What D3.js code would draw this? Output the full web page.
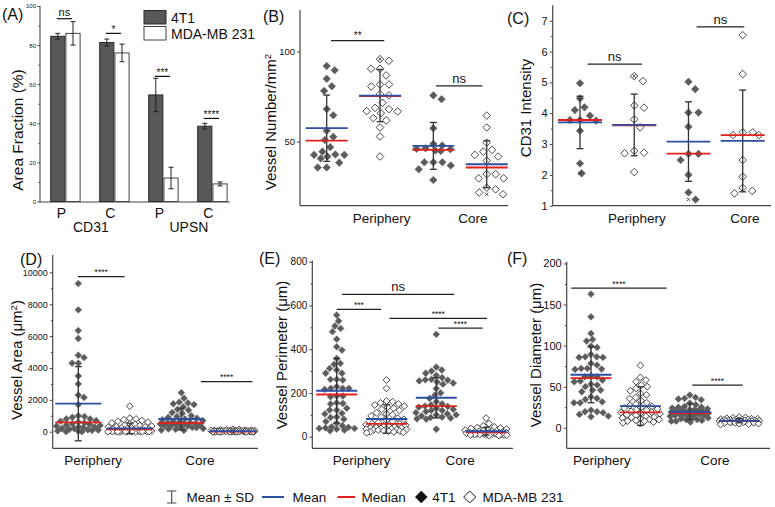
<!DOCTYPE html>
<html><head><meta charset="utf-8">
<script src="https://cdn.jsdelivr.net/npm/d3@7"></script>
<style>
body{margin:0;background:#fff}
svg{display:block}
text{font-family:"Liberation Sans",Arial,sans-serif;fill:#111}
</style>
</head><body>
<svg id="chart" width="775" height="507"></svg>
<script>
// ---------------- DATA ----------------
// Panel A: area fraction bar chart
const barTicks = ["P", "C", "P", "C"];
const barGroups = ["CD31", "UPSN"];
const barSeries = ["4T1", "MDA-MB 231"];
const area4T1 = [84.5, 81.3, 54.5, 38.5];
const area4T1SD = [1.5, 1.8, 8.5, 1.5];
const areaMDA = [86.0, 76.0, 12.0, 9.0];
const areaMDASD = [6.0, 4.5, 5.5, 1.0];
const areaSigLabels = ["ns", "*", "***", "****"];
const areaSigLevels = [93.5, 86, 64, 42.5];

// Scatter panels: groups = 4T1 Periphery, MDA Periphery, 4T1 Core, MDA Core
const regionLabels = ["Periphery", "Core"];

// (B) Vessel number / mm2
const numberPoints = [
  [91.9, 89.6, 84.8, 80.7, 78.1, 68.0, 64.6, 56.0, 52.6, 50.9, 46.9, 44.4, 42.8, 42.6, 42.6, 41.7, 40.6, 38.3, 35.6, 35.6],
  [95.7, 94.8, 90.4, 90.4, 86.7, 81.7, 81.7, 80.6, 76.3, 75.6, 71.5, 68.7, 68.0, 66.9, 66.7, 65.7, 63.0, 61.7, 57.8, 52.8, 41.7],
  [75.6, 73.5, 57.4, 48.7, 47.8, 46.3, 46.0, 45.7, 45.0, 44.8, 38.5, 38.5, 38.5, 36.7, 34.6, 28.7],
  [64.4, 57.8, 49.4, 45.4, 44.4, 42.6, 41.7, 39.4, 31.9, 31.9, 29.6, 29.6, 24.4, 23.5, 21.7, 20.7]
];
const numberMean = [57.4, 75.5, 47.6, 37.4];
const numberMedian = [50.5, 75.2, 45.4, 35.6];
const numberSD = [18.4, 14.5, 13.0, 13.0];
const numberExtremes = [[1, 95.7], [3, 20.7]];
const numberSig = [{from: 0.08, to: 1.08, level: 106, label: "**"}, {from: 2.05, to: 2.92, level: 80.9, label: "ns"}];
const numberTicks = [50, 100];

// (C) CD31 intensity
const intensityPoints = [
  [4.97, 4.48, 4.19, 4.10, 3.92, 3.78, 3.78, 3.76, 3.43, 2.37, 2.05],
  [5.20, 5.04, 4.25, 4.18, 3.80, 3.54, 2.78, 2.72, 2.70, 2.09],
  [5.02, 4.78, 4.02, 4.02, 3.56, 2.68, 2.68, 2.48, 2.00, 1.43, 1.20],
  [6.53, 5.27, 3.38, 3.38, 3.29, 3.29, 2.48, 1.94, 1.58, 1.48, 1.40]
];
const intensityMean = [3.70, 3.62, 3.08, 3.10];
const intensityMedian = [3.78, 3.61, 2.69, 3.29];
const intensitySD = [0.85, 1.00, 1.29, 1.65];
const intensityExtremes = [[0, 2.05], [1, 5.2], [2, 1.2]];
const intensitySig = [{from: 0.14, to: 1.14, level: 5.59, label: "ns"}, {from: 2.15, to: 3.03, level: 6.8, label: "ns"}];
const intensityTicks = [1, 2, 3, 4, 5, 6, 7];

// (D) Vessel area
const areaPoints = [
  [9300, 7650, 6350, 5850, 4800, 4650, 4300, 4300, 3500, 3000, 2300, 2150, 1700, 1000, 950, 900, 800, 800, 700, 650, 600, 550, 500, 450, 400, 400, 350, 300, 300, 250, 200, 200, 150, 120, 100, 80, 50, 30, 0, 0],
  [1600, 850, 800, 750, 700, 650, 600, 550, 500, 450, 400, 380, 350, 320, 300, 280, 250, 230, 200, 180, 160, 150, 130, 120, 100, 90, 80, 70, 60, 50, 40, 30, 20, 15, 10, 5, 0, 0, 0, 0, 0, 0, 0, 0, 0],
  [2450, 2100, 1850, 1800, 1750, 1700, 1550, 1400, 1350, 1200, 1150, 1000, 950, 900, 850, 800, 750, 700, 650, 600, 580, 560, 520, 500, 480, 450, 420, 400, 380, 350, 300, 270, 250, 200, 170, 150, 100, 80],
  [150, 130, 120, 110, 100, 90, 85, 80, 75, 70, 65, 60, 55, 50, 48, 45, 42, 40, 38, 35, 32, 30, 28, 25, 22, 20, 18, 15, 12, 10, 10, 8, 8, 6, 5, 5, 4, 3, 2, 2, 1, 1, 0, 0, 0, 0, 0, 0]
];
const areaMean = [1757, 209, 795, 30];
const areaMedian = [586, 146, 540, 10];
const areaSD = [2330, 330, 680, 40];
const areaSig = [{from: -0.01, to: 0.9, level: 9730, label: "****"}, {from: 2.38, to: 3.38, level: 3140, label: "****"}];
const areaTicks = [0, 2000, 4000, 6000, 8000, 10000];

// (E) Vessel perimeter
const perimeterPoints = [
  [556, 529, 506, 495, 480, 446, 411, 396, 358, 335, 331, 312, 305, 290, 290, 262, 262, 259, 229, 221, 221, 221, 216, 186, 186, 183, 155, 152, 150, 130, 122, 122, 107, 104, 90, 88, 80, 69, 61, 50, 45, 43, 40, 38, 38, 35, 30, 27],
  [259, 221, 163, 160, 155, 150, 145, 140, 135, 130, 125, 120, 110, 105, 100, 95, 90, 85, 80, 75, 70, 65, 60, 58, 55, 52, 50, 48, 45, 42, 40, 40, 38, 36, 35, 35, 33, 32, 30, 30, 28, 26, 25, 22, 22, 20, 18],
  [468, 318, 305, 300, 290, 280, 270, 262, 260, 258, 255, 250, 245, 240, 220, 200, 190, 175, 160, 150, 145, 140, 138, 135, 130, 125, 120, 120, 115, 110, 105, 100, 100, 95, 90, 88, 85, 82, 80, 34],
  [85, 60, 50, 45, 42, 40, 38, 35, 32, 30, 28, 26, 25, 24, 22, 21, 20, 20, 19, 18, 18, 17, 16, 15, 15, 14, 13, 12, 12, 11, 10, 10, 9, 8, 8, 7, 6, 5]
];
const perimeterMean = [210, 81, 178, 25];
const perimeterMedian = [193, 59, 140, 20];
const perimeterSD = [147, 65, 92, 18];
const perimeterSig = [
  {from: 0.11, to: 2.36, level: 651, label: "ns"},
  {from: 0.0, to: 0.89, level: 582, label: "***"},
  {from: 1.06, to: 3.02, level: 541, label: "****"},
  {from: 2.04, to: 2.93, level: 496, label: "****"}
];
const perimeterTicks = [0, 200, 400, 600, 800];

// (F) Vessel diameter
const diameterPoints = [
  [162.7, 135, 114.8, 107.5, 105.5, 99.4, 97.8, 89.2, 86.4, 86.4, 85.6, 85.6, 78.3, 76.3, 72.2, 72.2, 71.4, 71, 62.9, 62, 62, 58, 56.8, 56, 53.1, 52, 50, 45.8, 45.8, 43.8, 37.7, 35.7, 34.5, 31.6, 30.4, 30.4, 21.5, 19.5, 19.5, 18.3, 16.2, 14.2, 13.4],
  [75.9, 61.3, 58, 56, 52, 50, 47.9, 45, 41.8, 40, 36.9, 35.7, 33, 30.4, 28.8, 27, 26, 25, 24, 23, 22, 21.5, 20, 19, 18.5, 18, 17, 16, 15, 14, 13, 12.5, 12, 11, 10, 10, 9, 8, 8, 7, 6, 5],
  [39.8, 36.9, 35.7, 35, 34, 30, 28, 26, 25, 25, 24, 23, 22, 22, 21, 21, 20, 20, 19, 19, 18, 18, 17, 17, 16, 16, 15, 15, 14, 14, 13, 12, 11, 10, 10, 9, 8, 8, 7],
  [13, 12.5, 12, 11.5, 11, 11, 10.5, 10, 10, 10, 9.5, 9.5, 9, 9, 9, 8.5, 8.5, 8.5, 8, 8, 8, 8, 7.5, 7.5, 7.5, 7, 7, 7, 6.5, 6.5, 6, 6, 5.5, 5, 5, 4.5, 4]
];
const diameterMean = [64.5, 26.4, 19.5, 8.5];
const diameterMedian = [60.4, 18.7, 17.8, 8.0];
const diameterSD = [34, 23.5, 9.5, 2.5];
const diameterSig = [{from: -0.4, to: 1.53, level: 170, label: "****"}, {from: 2.05, to: 3.07, level: 52, label: "****"}];
const diameterTicks = [0, 50, 100, 150, 200];

const legendItems = ["Mean \u00b1 SD", "Mean", "Median", "4T1", "MDA-MB 231"];

// ---------------- STYLE ----------------
const DARK = "#5c5c5c", BLUE = "#2c4ea3", RED = "#e3211c", AXIS = "#444";
const svg = d3.select("#chart");
svg.append("rect").attr("width", 775).attr("height", 507).attr("fill", "#fff");

function diamondPath(r) { return `M0,${-r}L${r},0L0,${r}L${-r},0Z`; }

function swarm(values, y, d, half) {
  const pts = values.map((v, i) => ({v, y: y(v), i})).sort((a, b) => a.y - b.y);
  const placed = [];
  let k = 0;
  for (const p of pts) {
    let dd = d, x = null;
    while (x === null) {
      const cands = [0];
      for (const q of placed) {
        const dy = Math.abs(q.y - p.y);
        if (dy < dd) { const dx = Math.sqrt(dd * dd - dy * dy); cands.push(q.x + dx, q.x - dx); }
      }
      cands.sort((a, b) => Math.abs(a) - Math.abs(b));
      for (const c of cands) {
        if (Math.abs(c) > half + 1e-6) continue;
        if (placed.every(q => (q.x - c) ** 2 + (q.y - p.y) ** 2 >= dd * dd - 1e-6)) { x = c; break; }
      }
      dd *= 0.88;
      if (x === null && dd < 1.2) x = (((k * 0.618034) % 1) - 0.5) * 2 * half;
    }
    k++;
    p.x = x; placed.push(p);
  }
  return pts;
}

// ---------------- PANEL A ----------------
(function () {
  const g = svg.append("g");
  const y = d3.scaleLinear().domain([0, 100]).range([201.5, 6]);
  const x = d3.scaleBand().domain(d3.range(4)).range([40.9, 236.9]).paddingInner(0.4).paddingOuter(0.2);
  const xs = d3.scaleBand().domain([0, 1]).range([0, x.bandwidth()]).paddingInner(0.07);
  const series = [{v: area4T1, sd: area4T1SD, fill: "#585858", stroke: "#2a2a2a"}, {v: areaMDA, sd: areaMDASD, fill: "#fff", stroke: "#444"}];

  const ax = g.append("g").attr("transform", "translate(40,0)")
    .call(d3.axisLeft(y).tickValues([0, 20, 40, 60, 80, 100]).tickSize(2.5).tickPadding(1.5).tickFormat(d3.format("d")));
  ax.select(".domain").remove();
  ax.selectAll("line").attr("stroke", AXIS);
  ax.selectAll("text").attr("font-family", null).style("font-size", "6px");
  g.append("g").attr("transform", "translate(40,0)")
    .call(d3.axisLeft(y).tickValues([10, 30, 50, 70, 90]).tickSize(1.5).tickFormat(""))
    .call(s => s.select(".domain").remove()).selectAll("line").attr("stroke", AXIS);
  g.append("line").attr("x1", 40).attr("x2", 40).attr("y1", y(100)).attr("y2", 202).attr("stroke", AXIS).attr("stroke-width", 1.1);
  g.append("line").attr("x1", 40).attr("x2", 230).attr("y1", 202).attr("y2", 202).attr("stroke", AXIS).attr("stroke-width", 1.1);

  series.forEach((s, si) => {
    s.v.forEach((v, i) => {
      const bx = x(i) + xs(si);
      g.append("rect").attr("x", bx).attr("y", y(v)).attr("width", xs.bandwidth()).attr("height", y(0) - y(v))
        .attr("fill", s.fill).attr("stroke", s.stroke).attr("stroke-width", 1);
      const cx = bx + xs.bandwidth() / 2;
      const y1 = y(v + s.sd[i]), y2 = y(v - s.sd[i]);
      g.append("line").attr("x1", cx).attr("x2", cx).attr("y1", y1).attr("y2", y2).attr("stroke", "#222").attr("stroke-width", 1);
      [y1, y2].forEach(yy => g.append("line").attr("x1", cx - 2.5).attr("x2", cx + 2.5).attr("y1", yy).attr("y2", yy).attr("stroke", "#222").attr("stroke-width", 1));
    });
  });
  // significance
  areaSigLabels.forEach((lab, i) => {
    const x1 = x(i) + xs(0) + xs.bandwidth() / 2 - 1, x2 = x(i) + xs(1) + xs.bandwidth() / 2 - 1;
    const yy = y(areaSigLevels[i]);
    g.append("line").attr("x1", x1).attr("x2", x2).attr("y1", yy).attr("y2", yy).attr("stroke", "#111").attr("stroke-width", 1.2);
    g.append("text").attr("x", (x1 + x2) / 2).attr("y", yy - (lab === "ns" ? 2.5 : 0.5)).attr("text-anchor", "middle")
      .style("font-size", lab === "ns" ? "11px" : "10px").text(lab);
  });
  // x labels
  barTicks.forEach((t, i) => {
    g.append("text").attr("x", x(i) + x.bandwidth() / 2 - 4).attr("y", 217.5).attr("text-anchor", "middle").style("font-size", "14px").text(t);
  });
  barGroups.forEach((t, gi) => {
    const cx = (x(gi * 2) + x(gi * 2 + 1) + x.bandwidth()) / 2 + 1;
    g.append("text").attr("x", cx).attr("y", 232).attr("text-anchor", "middle").style("font-size", "14px").text(t);
  });
  // legend
  series.forEach((s, si) => {
    g.append("rect").attr("x", 144).attr("y", 10.5 + si * 16).attr("width", 22).attr("height", 13.5)
      .attr("fill", s.fill).attr("stroke", s.stroke).attr("stroke-width", 1);
    g.append("text").attr("x", 171).attr("y", 22.5 + si * 16.5).style("font-size", "14px").text(barSeries[si]);
  });
  g.append("text").attr("transform", "translate(23,130) rotate(-90)").attr("text-anchor", "middle").style("font-size", "15.5px").text("Area Fraction (%)");
  g.append("text").attr("x", 2).attr("y", 20).style("font-size", "16px").text("(A)");
})();

// ---------------- SCATTER PANELS ----------------
function scatterPanel(c) {
  const g = svg.append("g");
  const y = d3.scaleLinear().domain(c.domain).range([c.yBottom, c.yTop]);
  const x = d3.scaleLinear().domain([0, 3]).range(c.xRange);

  const ax = g.append("g").attr("transform", `translate(${c.axisX},0)`)
    .call(d3.axisLeft(y).tickValues(c.ticks).tickSize(3).tickPadding(2).tickFormat(d3.format("d")));
  ax.select(".domain").remove();
  ax.selectAll("line").attr("stroke", AXIS);
  ax.selectAll("text").attr("font-family", null).style("font-size", c.tickFont + "px");
  if (c.minor) {
    g.append("g").attr("transform", `translate(${c.axisX},0)`)
      .call(d3.axisLeft(y).tickValues(c.minor).tickSize(1.8).tickFormat(""))
      .call(s => s.select(".domain").remove()).selectAll("line").attr("stroke", AXIS);
  }
  g.append("line").attr("x1", c.axisX).attr("x2", c.axisX).attr("y1", c.yTop).attr("y2", c.yBottom).attr("stroke", AXIS).attr("stroke-width", 1.2);
  g.append("line").attr("x1", c.axisX).attr("x2", c.axisEnd).attr("y1", c.yBottom).attr("y2", c.yBottom).attr("stroke", AXIS).attr("stroke-width", 1.2);

  // points
  c.points.forEach((vals, gi) => {
    const sw = swarm(vals, y, c.d, c.spread);
    const filled = gi % 2 === 0;
    g.append("g").selectAll("path").data(sw).join("path")
      .attr("d", diamondPath(c.r))
      .attr("transform", p => `translate(${x(gi) + p.x},${y(p.v)})`)
      .attr("fill", filled ? DARK : "#fff")
      .attr("stroke", filled ? DARK : "#333")
      .attr("stroke-width", filled ? 0.5 : 0.9);
  });
  (c.extremes || []).forEach(([gi, v]) => {
    const cx = x(gi), cy = y(v), s = 1.6;
    g.append("path").attr("d", `M${cx - s},${cy - s}L${cx + s},${cy + s}M${cx - s},${cy + s}L${cx + s},${cy - s}`).attr("stroke", "#333").attr("stroke-width", 0.9);
  });
  // stats
  c.mean.forEach((m, gi) => {
    const cx = x(gi), sd = c.sd[gi];
    const y1 = y(m + sd), y2 = y(m - sd);
    g.append("line").attr("x1", cx).attr("x2", cx).attr("y1", y1).attr("y2", y2).attr("stroke", "#333").attr("stroke-width", 1.3);
    [y1, y2].forEach(yy => g.append("line").attr("x1", cx - 3.5).attr("x2", cx + 3.5).attr("y1", yy).attr("y2", yy).attr("stroke", "#333").attr("stroke-width", 1.3));
    g.append("line").attr("x1", cx - c.half).attr("x2", cx + c.half).attr("y1", y(c.median[gi])).attr("y2", y(c.median[gi])).attr("stroke", RED).attr("stroke-width", 1.8);
    g.append("line").attr("x1", cx - c.half).attr("x2", cx + c.half).attr("y1", y(m)).attr("y2", y(m)).attr("stroke", BLUE).attr("stroke-width", 1.8);
  });
  // significance
  c.sig.forEach(s => {
    const x1 = x(s.from), x2 = x(s.to), yy = y(s.level);
    g.append("line").attr("x1", x1).attr("x2", x2).attr("y1", yy).attr("y2", yy).attr("stroke", "#222").attr("stroke-width", 1.3);
    const ns = s.label === "ns";
    g.append("text").attr("x", (x1 + x2) / 2).attr("y", yy - (ns ? 3 : 1.5)).attr("text-anchor", "middle")
      .style("font-size", ns ? "13px" : c.starFont + "px").text(s.label);
  });
  // category labels
  regionLabels.forEach((t, i) => {
    g.append("text").attr("x", x(c.labelPos[i])).attr("y", c.labelY).attr("text-anchor", "middle").style("font-size", "13.5px").text(t);
  });
  // y title
  const tt = g.append("text").attr("transform", `translate(${c.titleX},${c.titleY}) rotate(-90)`).attr("text-anchor", "middle").style("font-size", c.titleFont + "px");
  c.title.forEach(part => {
    const ts = tt.append("tspan").text(part.t);
    if (part.sup) ts.attr("baseline-shift", "super").style("font-size", (c.titleFont * 0.65) + "px");
  });
  g.append("text").attr("x", c.tagX).attr("y", c.tagY).style("font-size", "16px").text(c.tag);
}

scatterPanel({
  tag: "(B)", tagX: 263, tagY: 22,
  domain: [14.4, 123], yBottom: 205.7, yTop: 10, xRange: [326.7, 486.7], axisX: 300, axisEnd: 508,
  ticks: numberTicks, tickFont: 9.5, points: numberPoints, mean: numberMean, median: numberMedian, sd: numberSD,
  extremes: numberExtremes, sig: numberSig, starFont: 10, r: 3.8, d: 9, spread: 19, half: 21,
  labelPos: [1.03, 2.74], labelY: 223,
  title: [{t: "Vessel Number/mm"}, {t: "2", sup: true}], titleX: 276, titleY: 122, titleFont: 15
});
scatterPanel({
  tag: "(C)", tagX: 507, tagY: 24,
  domain: [1, 7.5], yBottom: 205.7, yTop: 5.3, xRange: [580, 742.7], axisX: 552.7, axisEnd: 771,
  ticks: intensityTicks, minor: [1.5, 2.5, 3.5, 4.5, 5.5, 6.5], tickFont: 11, points: intensityPoints, mean: intensityMean, median: intensityMedian, sd: intensitySD,
  extremes: intensityExtremes, sig: intensitySig, starFont: 10, r: 3.8, d: 10, spread: 17, half: 22,
  labelPos: [1.05, 3.04], labelY: 223,
  title: [{t: "CD31 Intensity"}], titleX: 531, titleY: 108, titleFont: 15
});
scatterPanel({
  tag: "(D)", tagX: 20, tagY: 265,
  domain: [-1050, 11100], yBottom: 448.4, yTop: 254.9, xRange: [78.3, 232.8], axisX: 52.7, axisEnd: 258,
  ticks: areaTicks, minor: [1000, 3000, 5000, 7000, 9000], tickFont: 9, points: areaPoints, mean: areaMean, median: areaMedian, sd: areaSD,
  sig: areaSig, starFont: 8.5, r: 3.4, d: 6.2, spread: 22, half: 23,
  labelPos: [0.29, 2.36], labelY: 465,
  title: [{t: "Vessel Area (\u03bcm"}, {t: "2", sup: true}, {t: ")"}], titleX: 22, titleY: 360, titleFont: 15
});
scatterPanel({
  tag: "(E)", tagX: 259, tagY: 264,
  domain: [-53, 805], yBottom: 448.3, yTop: 260.6, xRange: [336.7, 486.1], axisX: 312.3, axisEnd: 513,
  ticks: perimeterTicks, minor: [100, 300, 500, 700], tickFont: 10, points: perimeterPoints, mean: perimeterMean, median: perimeterMedian, sd: perimeterSD,
  sig: perimeterSig, starFont: 8.5, r: 3.4, d: 6.2, spread: 21, half: 20.5,
  labelPos: [0.5, 2.48], labelY: 465,
  title: [{t: "Vessel Perimeter (\u03bcm)"}], titleX: 286.5, titleY: 355, titleFont: 15
});
scatterPanel({
  tag: "(F)", tagX: 507, tagY: 264,
  domain: [-25, 202], yBottom: 448.3, yTop: 261.8, xRange: [591, 739.2], axisX: 566.7, axisEnd: 770,
  ticks: diameterTicks, minor: [25, 75, 125, 175], tickFont: 11, points: diameterPoints, mean: diameterMean, median: diameterMedian, sd: diameterSD,
  sig: diameterSig, starFont: 8.5, r: 3.4, d: 6.2, spread: 20, half: 20.5,
  labelPos: [0.22, 2.51], labelY: 465,
  title: [{t: "Vessel Diameter (\u03bcm)"}], titleX: 541, titleY: 355, titleFont: 15
});

// ---------------- LEGEND ----------------
(function () {
  const g = svg.append("g");
  const ly = 497, fs = "13.5px";
  g.append("path").attr("d", `M171.7,491V503M167,491H176.4M167,503H176.4`).attr("stroke", "#444").attr("stroke-width", 1.1).attr("fill", "none");
  g.append("text").attr("x", 186.5).attr("y", 501.5).style("font-size", fs).text(legendItems[0]);
  g.append("line").attr("x1", 262).attr("x2", 284).attr("y1", ly).attr("y2", ly).attr("stroke", BLUE).attr("stroke-width", 2);
  g.append("text").attr("x", 292.5).attr("y", 501.5).style("font-size", fs).text(legendItems[1]);
  g.append("line").attr("x1", 337.5).attr("x2", 355).attr("y1", ly).attr("y2", ly).attr("stroke", RED).attr("stroke-width", 2);
  g.append("text").attr("x", 361.5).attr("y", 501.5).style("font-size", fs).text(legendItems[2]);
  g.append("path").attr("d", diamondPath(6.3)).attr("transform", `translate(421.3,${ly})`).attr("fill", "#111");
  g.append("text").attr("x", 432.3).attr("y", 501.5).style("font-size", fs).text(legendItems[3]);
  g.append("path").attr("d", diamondPath(6)).attr("transform", `translate(469.7,${ly})`).attr("fill", "#fff").attr("stroke", "#111").attr("stroke-width", 1);
  g.append("text").attr("x", 482.5).attr("y", 501.5).style("font-size", fs).text(legendItems[4]);
})();
</script>
</body></html>
